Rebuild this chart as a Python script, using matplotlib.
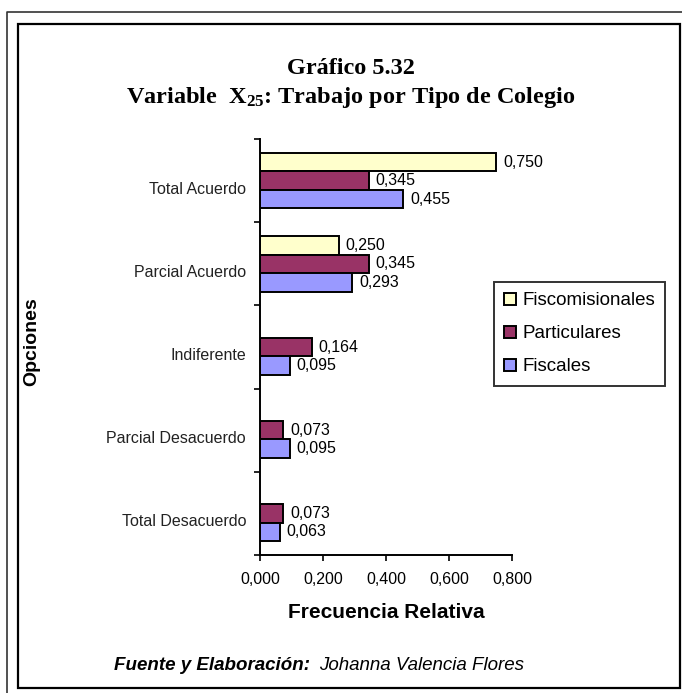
import matplotlib
matplotlib.use("Agg")
import matplotlib.pyplot as plt
from matplotlib.patches import Rectangle, Patch
from matplotlib.lines import Line2D
import matplotlib.transforms as mtransforms
import numpy as np

# ---- data ----
categories = ["Total Acuerdo", "Parcial Acuerdo", "Indiferente",
              "Parcial Desacuerdo", "Total Desacuerdo"]
series_names = ["Fiscomisionales", "Particulares", "Fiscales"]
fiscomisionales = [0.750, 0.250, 0.0, 0.0, 0.0]
particulares = [0.345, 0.345, 0.164, 0.073, 0.073]
fiscales = [0.455, 0.293, 0.095, 0.095, 0.063]
x_ticks = [0.0, 0.2, 0.4, 0.6, 0.8]

colors = ["#FFFFCC", "#993366", "#9999FF"]

plt.rcParams['font.family'] = ['Liberation Sans', 'DejaVu Sans']
plt.rcParams['mathtext.fontset'] = 'custom'
plt.rcParams['mathtext.rm'] = 'Liberation Serif:bold'
plt.rcParams['mathtext.bf'] = 'Liberation Serif:bold'
plt.rcParams['mathtext.it'] = 'Liberation Serif:bold'
plt.rcParams['mathtext.default'] = 'regular'

W, H = 682, 693
fig = plt.figure(figsize=(W / 100, H / 100), dpi=100)

def fx(px):
    return px / W

def fy(py):
    return 1 - py / H

ax = fig.add_axes([fx(260), fy(555), fx(512) - fx(260), fy(139) - fy(555)])

n = len(categories)
ypos = np.arange(n)[::-1].astype(float)  # Total Acuerdo at top
h = 0.222
series = [fiscomisionales, particulares, fiscales]
offsets = [h, 0.0, -h]

for vals, off, col in zip(series, offsets, colors):
    for y, v in zip(ypos, vals):
        if v <= 0:
            continue
        ax.barh(y + off, v, height=h, color=col, edgecolor="black", linewidth=1.4)
        lbl = f"{v:.3f}".replace(".", ",")
        ax.annotate(lbl, xy=(v, y + off), xytext=(5, 0), textcoords="offset points",
                    ha="left", va="center", fontsize=11.5)

ax.set_xlim(0, 0.8)
ax.set_ylim(-0.5, n - 0.5)
ax.set_xticks(x_ticks)
ax.set_xticklabels([f"{t:.3f}".replace(".", ",") for t in x_ticks], fontsize=11.5)
ax.tick_params(axis="x", direction="out", length=4, width=1.2, pad=8)

# category boundaries as major ticks, labels at centres
ax.set_yticks(np.arange(-0.5, n, 1.0))
ax.set_yticklabels([])
ax.tick_params(axis="y", which="major", direction="out", length=4, width=1.2)
ax.set_yticks(ypos, minor=True)
ax.set_yticklabels(categories, minor=True, fontsize=11.5, color="#222222")
ax.tick_params(axis="y", which="minor", length=0, pad=10)
off = mtransforms.ScaledTranslation(0, -7 / 100, fig.dpi_scale_trans)
for lab in ax.get_yticklabels(minor=True):
    lab.set_transform(lab.get_transform() + off)

for s in ["top", "right"]:
    ax.spines[s].set_visible(False)
for s in ["left", "bottom"]:
    ax.spines[s].set_linewidth(1.4)

# axis titles
fig.text(fx(386), fy(612), "Frecuencia Relativa", ha="center", va="center",
         fontsize=15, fontweight="bold")
fig.text(fx(32), fy(342), "Opciones", ha="center", va="center", rotation=90,
         fontsize=14, fontweight="bold")

# chart title
fig.text(fx(351), fy(68), "Gráfico 5.32", ha="center", va="center",
         fontsize=17.5, fontweight="bold", family="Liberation Serif")
fig.text(fx(351), fy(97), "Variable  X$_{25}$: Trabajo por Tipo de Colegio",
         ha="center", va="center", fontsize=17.5, fontweight="bold",
         family="Liberation Serif")

# footer
fig.text(fx(310), fy(665), "Fuente y Elaboración:", ha="right", va="center",
         fontsize=13.5, fontweight="bold", style="italic")
fig.text(fx(319), fy(665), "Johanna Valencia Flores", ha="left", va="center",
         fontsize=13.5, style="italic")

# legend
handles = [Patch(facecolor=c, edgecolor="black", linewidth=1.4) for c in colors]
leg = fig.legend(handles, series_names, loc="upper left",
                 bbox_to_anchor=(fx(494), fy(282)), fontsize=13.5,
                 frameon=True, fancybox=False, edgecolor="black",
                 handlelength=0.6, handleheight=0.6, handletextpad=0.35,
                 labelspacing=0.85, borderpad=0.55, borderaxespad=0)
leg.get_frame().set_linewidth(1.4)

# frames
fig.add_artist(Rectangle((fx(18), fy(688)), fx(680) - fx(18), fy(24) - fy(688),
                         transform=fig.transFigure, fill=False,
                         edgecolor="black", linewidth=1.6))
fig.add_artist(Line2D([fx(7), fx(7), fx(682)], [fy(693), fy(12), fy(12)],
                      transform=fig.transFigure, color="#333333", linewidth=1.2))

fig.savefig("out.png", dpi=100)
